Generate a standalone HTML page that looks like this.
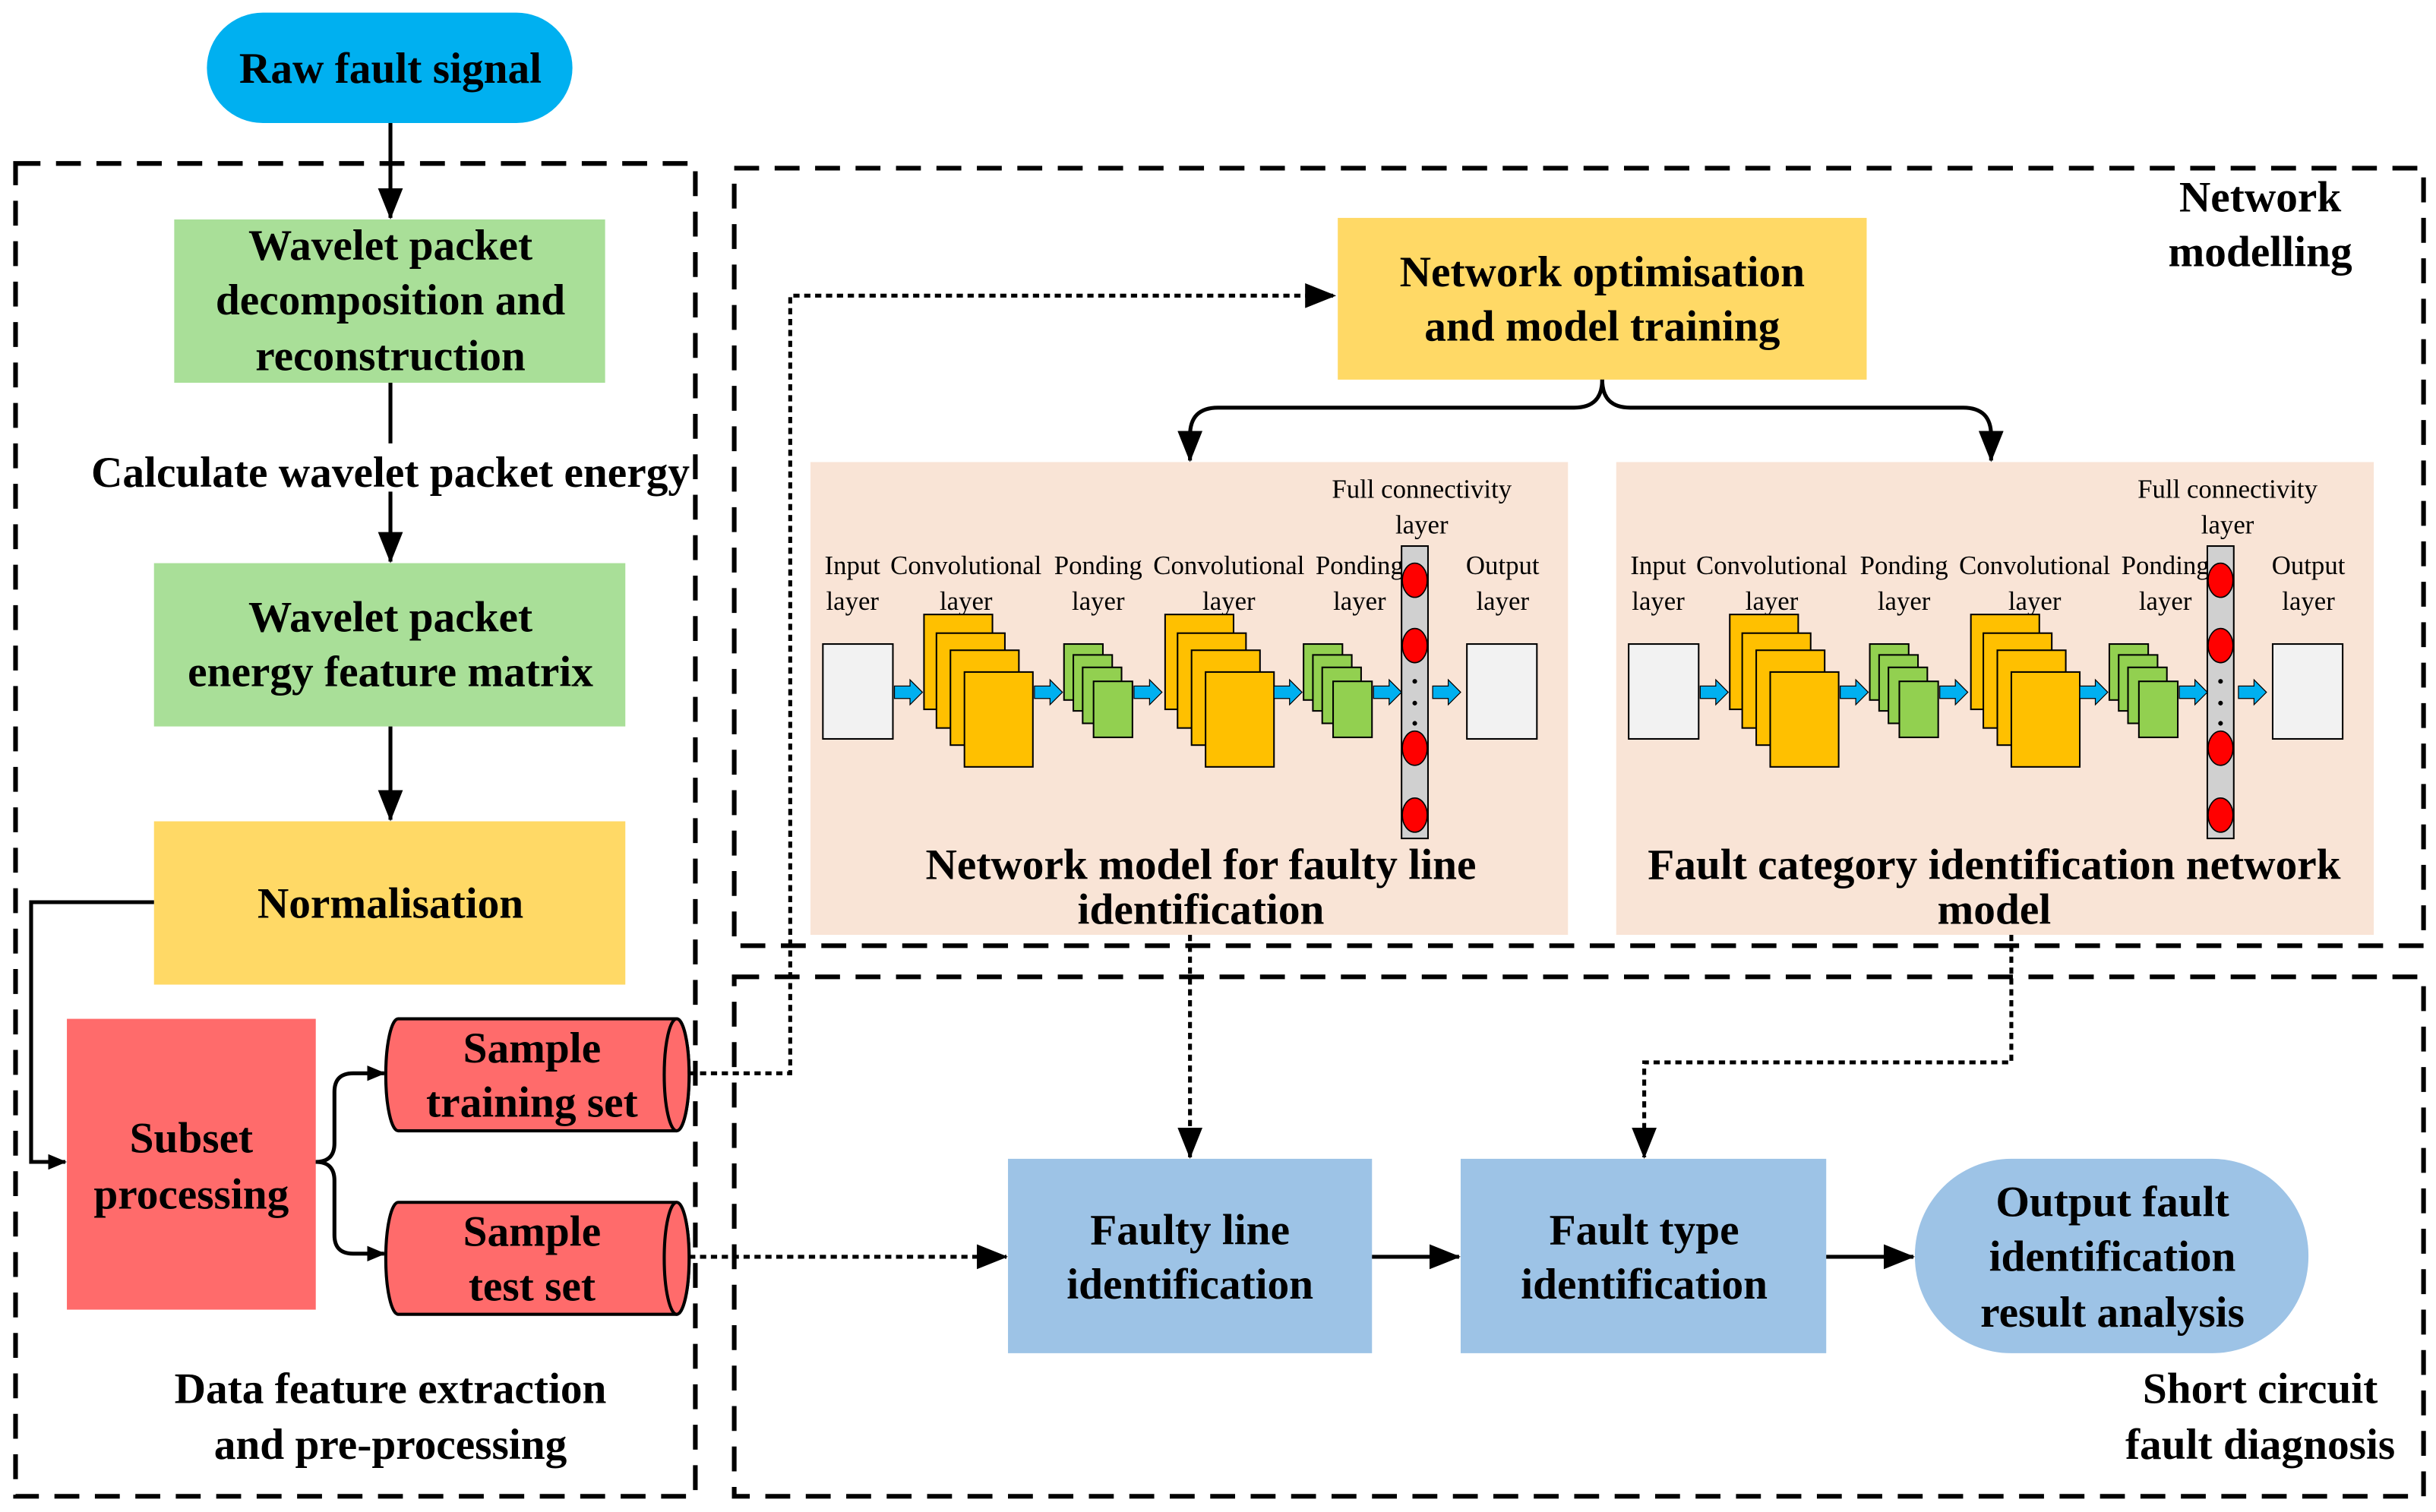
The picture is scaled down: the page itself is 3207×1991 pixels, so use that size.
<!DOCTYPE html>
<html><head><meta charset="utf-8"><style>
html,body{margin:0;padding:0;background:#fff;}
svg{display:block;}
text{font-family:"Liberation Serif",serif;}
.b{font-weight:bold;font-size:28px;text-anchor:middle;}
.s{font-size:17px;text-anchor:middle;}
</style></head><body>
<svg width="3207" height="1991" viewBox="0 0 1566 972" xmlns="http://www.w3.org/2000/svg">
<defs>
<marker id="ah" markerWidth="12" markerHeight="10" refX="11" refY="5" orient="auto" markerUnits="userSpaceOnUse">
<path d="M0,0 L12,5 L0,10 Z" fill="#000"/></marker>
<marker id="ah2" markerWidth="20" markerHeight="16" refX="19" refY="8" orient="auto" markerUnits="userSpaceOnUse">
<path d="M0,0 L20,8 L0,16 Z" fill="#000"/></marker>
<g id="barr"><path d="M0,-4 L10,-4 L10,-8 L18,0 L10,8 L10,4 L0,4 Z" fill="#00b0f0" stroke="#000" stroke-width="0.6"/></g>
<g id="cnn">
<rect x="0" y="0" width="487" height="304" fill="#f9e4d6"/>
<text class="s" x="27" y="72">Input</text><text class="s" x="27" y="95">layer</text>
<text class="s" x="100" y="72">Convolutional</text><text class="s" x="100" y="95">layer</text>
<text class="s" x="185" y="72">Ponding</text><text class="s" x="185" y="95">layer</text>
<text class="s" x="269" y="72">Convolutional</text><text class="s" x="269" y="95">layer</text>
<text class="s" x="353" y="72">Ponding</text><text class="s" x="353" y="95">layer</text>
<text class="s" x="393" y="23">Full connectivity</text><text class="s" x="393" y="46">layer</text>
<text class="s" x="445" y="72">Output</text><text class="s" x="445" y="95">layer</text>
<rect x="8" y="117" width="45" height="61" fill="#f2f2f2" stroke="#000" stroke-width="1"/>
<g fill="#ffc000" stroke="#000" stroke-width="1">
<rect x="73" y="98" width="44" height="61"/><rect x="81" y="110" width="44" height="61"/><rect x="90" y="121" width="44" height="61"/><rect x="99" y="135" width="44" height="61"/>
<rect x="228" y="98" width="44" height="61"/><rect x="236" y="110" width="44" height="61"/><rect x="245" y="121" width="44" height="61"/><rect x="254" y="135" width="44" height="61"/>
</g>
<g fill="#92d050" stroke="#000" stroke-width="1">
<rect x="163" y="117" width="25" height="36"/><rect x="169" y="124" width="25" height="36"/><rect x="175" y="132" width="25" height="36"/><rect x="182" y="141" width="25" height="36"/>
<rect x="317" y="117" width="25" height="36"/><rect x="323" y="124" width="25" height="36"/><rect x="329" y="132" width="25" height="36"/><rect x="336" y="141" width="25" height="36"/>
</g>
<use href="#barr" x="54" y="148"/><use href="#barr" x="144" y="148"/><use href="#barr" x="208" y="148"/><use href="#barr" x="298" y="148"/><use href="#barr" x="362" y="148"/><use href="#barr" x="400" y="148"/>
<rect x="380" y="54" width="17" height="188" fill="#d0d0d0" stroke="#000" stroke-width="1"/>
<g fill="#ff0000" stroke="#000" stroke-width="0.8">
<ellipse cx="388.5" cy="76" rx="8" ry="11"/><ellipse cx="388.5" cy="118" rx="8" ry="11"/><ellipse cx="388.5" cy="184" rx="8" ry="11"/><ellipse cx="388.5" cy="227" rx="8" ry="11"/>
</g>
<circle cx="388.5" cy="141" r="1.5"/><circle cx="388.5" cy="155" r="1.5"/><circle cx="388.5" cy="168" r="1.5"/>
<rect x="422" y="117" width="45" height="61" fill="#f2f2f2" stroke="#000" stroke-width="1"/>
</g>
</defs>

<g fill="none" stroke="#000" stroke-width="3" stroke-dasharray="16 10">
<rect x="10" y="105" width="437" height="857"/>
<rect x="472" y="108" width="1086" height="500"/>
<rect x="472" y="628" width="1086" height="334"/>
</g>

<rect x="133" y="8" width="235" height="71" rx="36" fill="#00b0f0"/>
<text class="b" x="251" y="53">Raw fault signal</text>
<line x1="251" y1="79" x2="251" y2="140" stroke="#000" stroke-width="2.5" marker-end="url(#ah2)"/>

<rect x="112" y="141" width="277" height="105" fill="#a9df98"/>
<text class="b" x="251" y="167">Wavelet packet</text>
<text class="b" x="251" y="202">decomposition and</text>
<text class="b" x="251" y="238">reconstruction</text>
<line x1="251" y1="246" x2="251" y2="285" stroke="#000" stroke-width="2.5"/>
<text class="b" x="251" y="313">Calculate wavelet packet energy</text>
<line x1="251" y1="316" x2="251" y2="361" stroke="#000" stroke-width="2.5" marker-end="url(#ah2)"/>

<rect x="99" y="362" width="303" height="105" fill="#a9df98"/>
<text class="b" x="251" y="406">Wavelet packet</text>
<text class="b" x="251" y="441">energy feature matrix</text>
<line x1="251" y1="467" x2="251" y2="527" stroke="#000" stroke-width="2.5" marker-end="url(#ah2)"/>

<rect x="99" y="528" width="303" height="105" fill="#ffd966"/>
<text class="b" x="251" y="590">Normalisation</text>
<path d="M99,580 L20,580 L20,747 L42,747" fill="none" stroke="#000" stroke-width="2.5" marker-end="url(#ah)"/>

<rect x="43" y="655" width="160" height="187" fill="#ff6b6b"/>
<text class="b" x="123" y="741">Subset</text>
<text class="b" x="123" y="777">processing</text>
<path d="M203,747 Q215,747 215,735 L215,702 Q215,690 227,690 L247,690" fill="none" stroke="#000" stroke-width="2.5" marker-end="url(#ah)"/>
<path d="M203,747 Q215,747 215,759 L215,794 Q215,806 227,806 L247,806" fill="none" stroke="#000" stroke-width="2.5" marker-end="url(#ah)"/>

<path d="M256,655 L435,655 A8,36 0 0 1 435,727 L256,727 A8,36 0 0 1 256,655 Z" fill="#ff6b6b" stroke="#000" stroke-width="2"/>
<ellipse cx="435" cy="691" rx="8" ry="36" fill="#ff6b6b" stroke="#000" stroke-width="2"/>
<text class="b" x="342" y="683">Sample</text>
<text class="b" x="342" y="718">training set</text>
<path d="M256,773 L435,773 A8,36 0 0 1 435,845 L256,845 A8,36 0 0 1 256,773 Z" fill="#ff6b6b" stroke="#000" stroke-width="2"/>
<ellipse cx="435" cy="809" rx="8" ry="36" fill="#ff6b6b" stroke="#000" stroke-width="2"/>
<text class="b" x="342" y="801">Sample</text>
<text class="b" x="342" y="836">test set</text>

<text class="b" x="251" y="902">Data feature extraction</text>
<text class="b" x="251" y="938">and pre-processing</text>

<text class="b" x="1453" y="136">Network</text>
<text class="b" x="1453" y="171">modelling</text>
<rect x="860" y="140" width="340" height="104" fill="#ffd966"/>
<text class="b" x="1030" y="184">Network optimisation</text>
<text class="b" x="1030" y="219">and model training</text>
<path d="M1030,244 Q1030,262 1012,262 L783,262 Q765,262 765,280 L765,296" fill="none" stroke="#000" stroke-width="2.5" marker-end="url(#ah2)"/>
<path d="M1030,244 Q1030,262 1048,262 L1262,262 Q1280,262 1280,280 L1280,296" fill="none" stroke="#000" stroke-width="2.5" marker-end="url(#ah2)"/>

<use href="#cnn" x="521" y="297"/>
<use href="#cnn" x="1039" y="297"/>
<text class="b" x="772" y="565">Network model for faulty line</text>
<text class="b" x="772" y="594">identification</text>
<text class="b" x="1282" y="565">Fault category identification network</text>
<text class="b" x="1282" y="594">model</text>

<g fill="none" stroke="#000" stroke-width="2.5" stroke-dasharray="4 3">
<path d="M443,690 L508,690 L508,190 L858,190" marker-end="url(#ah2)"/>
<path d="M443,808 L647,808" marker-end="url(#ah2)"/>
<path d="M765,601 L765,744" marker-end="url(#ah2)"/>
<path d="M1293,601 L1293,683 L1057,683 L1057,744" marker-end="url(#ah2)"/>
</g>

<text class="b" x="1453" y="902">Short circuit</text>
<text class="b" x="1453" y="938">fault diagnosis</text>

<rect x="648" y="745" width="234" height="125" fill="#9dc3e6"/>
<text class="b" x="765" y="800">Faulty line</text>
<text class="b" x="765" y="835">identification</text>
<rect x="939" y="745" width="235" height="125" fill="#9dc3e6"/>
<text class="b" x="1057" y="800">Fault type</text>
<text class="b" x="1057" y="835">identification</text>
<rect x="1231" y="745" width="253" height="125" rx="62" fill="#9dc3e6"/>
<text class="b" x="1358" y="782">Output fault</text>
<text class="b" x="1358" y="817">identification</text>
<text class="b" x="1358" y="853">result analysis</text>
<line x1="882" y1="808" x2="938" y2="808" stroke="#000" stroke-width="2.5" marker-end="url(#ah2)"/>
<line x1="1174" y1="808" x2="1230" y2="808" stroke="#000" stroke-width="2.5" marker-end="url(#ah2)"/>
</svg>
</body></html>
